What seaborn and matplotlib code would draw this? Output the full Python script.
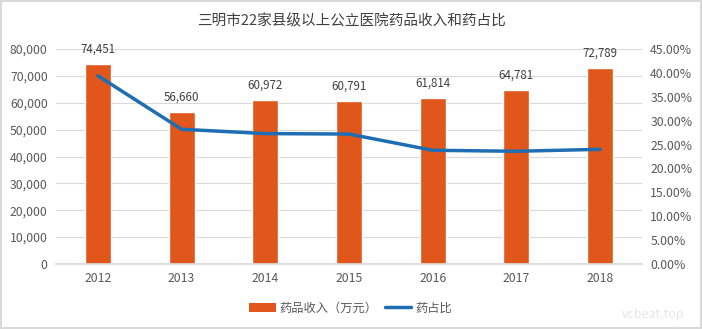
import matplotlib
matplotlib.use("Agg")
import matplotlib.pyplot as plt
import seaborn as sns
import pandas as pd
import numpy as np
from matplotlib.ticker import FuncFormatter, MultipleLocator
from matplotlib.lines import Line2D
from matplotlib.patches import Patch

years = ["2012", "2013", "2014", "2015", "2016", "2017", "2018"]
income = [74451, 56660, 60972, 60791, 61814, 64781, 72789]
ratio = [39.4, 28.2, 27.3, 27.2, 23.8, 23.6, 24.0]

title = "三明市22家县级以上公立医院药品收入和药占比"
bar_label = "药品收入（万元）"
line_label = "药占比"

sns.set_theme(style="white")
plt.rcParams['font.family'] = ['Noto Sans CJK SC', 'DejaVu Sans']

bar_color = "#E0561B"
line_color = "#1E6EB4"
text_color = "#595959"

df = pd.DataFrame({"year": years, "income": income, "ratio": ratio})

fig = plt.figure(figsize=(7.02, 3.29), dpi=100)
fig.patch.set_edgecolor("#D9D9D9")
fig.patch.set_linewidth(1.5)
ax = fig.add_axes([0.0798, 0.1976, 0.8347, 0.6534])

sns.barplot(data=df, x="year", y="income", color=bar_color, width=0.31,
            saturation=1, ax=ax)
ax.set_ylim(0, 80000)
ax.yaxis.set_major_locator(MultipleLocator(10000))
ax.yaxis.set_major_formatter(FuncFormatter(lambda v, p: f"{int(v):,}"))
ax.grid(axis="y", color="#D9D9D9", linewidth=0.8)
ax.set_axisbelow(True)
for s in ["top", "right", "left"]:
    ax.spines[s].set_visible(False)
ax.spines["bottom"].set_color("#D9D9D9")
ax.set_xlabel("")
ax.set_ylabel("")
ax.tick_params(axis="both", length=0, labelsize=8.8, colors=text_color, pad=6)
ax.bar_label(ax.containers[0], labels=[f"{v:,}" for v in income],
             fontsize=8.3, color="#404040", padding=6)

ax2 = ax.twinx()
sns.pointplot(data=df, x="year", y="ratio", color=line_color, markers="",
              linewidth=2.5, ax=ax2)
ax2.set_ylim(0, 45)
ax2.yaxis.set_major_locator(MultipleLocator(5))
ax2.yaxis.set_major_formatter(FuncFormatter(lambda v, p: f"{v:.2f}%"))
for s in ["top", "right", "left", "bottom"]:
    ax2.spines[s].set_visible(False)
ax2.set_ylabel("")
ax2.set_xlabel("")
ax2.tick_params(axis="y", length=0, labelsize=8.8, colors=text_color, pad=6)
ax2.set_xlim(-0.5, 6.5)

fig.text(0.5, 0.935, title, ha="center", va="center", fontsize=10.5, color="#404040")

handles = [Patch(facecolor=bar_color, edgecolor="none"),
           Line2D([0], [0], color=line_color, linewidth=2.5)]
fig.legend(handles, [bar_label, line_label], loc="center", bbox_to_anchor=(0.499, 0.063),
           ncol=2, frameon=False, fontsize=8.8, labelcolor=text_color,
           handlelength=2.2, handleheight=0.7, columnspacing=0.6, handletextpad=0.3)

fig.text(0.93, 0.045, "vcbeat.top", ha="center", va="center", fontsize=9, color="#E6E6E6")

fig.savefig("out.png", dpi=100)
